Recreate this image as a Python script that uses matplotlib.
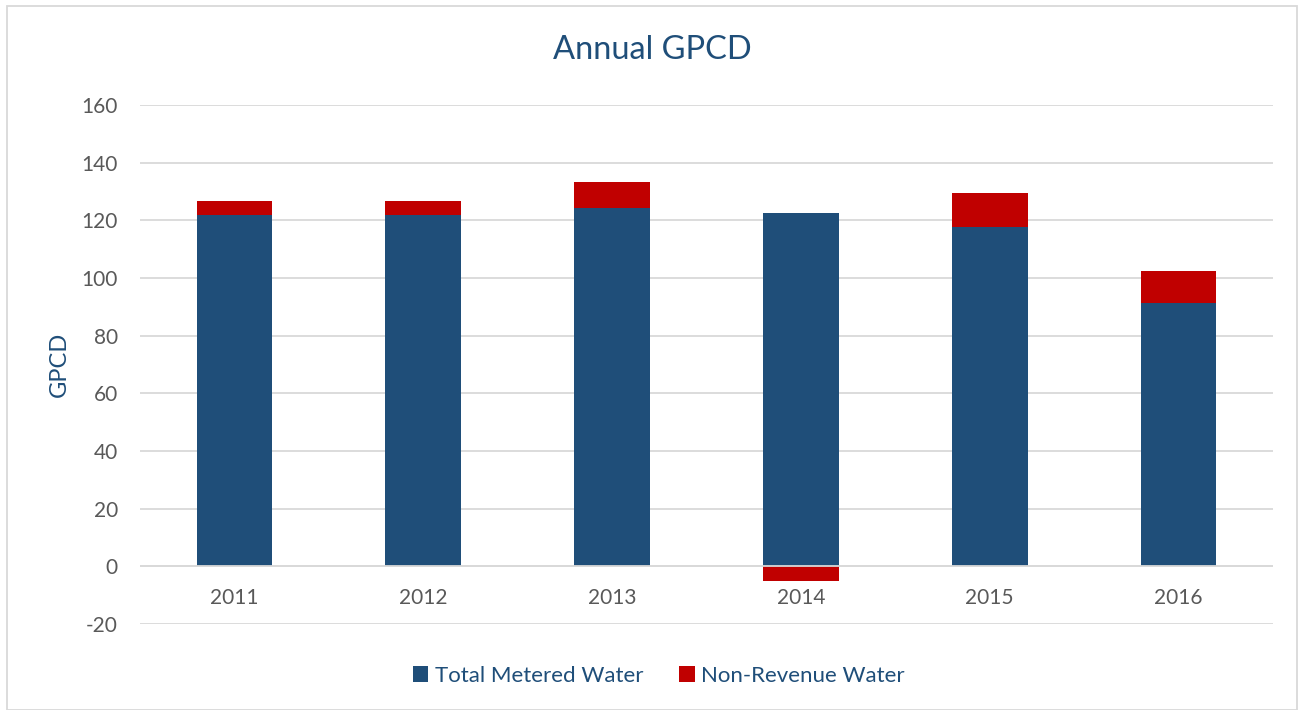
import numpy as np
import matplotlib.pyplot as plt
from matplotlib.patches import Rectangle

plt.rcParams['font.family'] = ['Lato', 'DejaVu Sans']
plt.rcParams['axes.unicode_minus'] = False

years = ["2011", "2012", "2013", "2014", "2015", "2016"]
metered = [121.7, 121.7, 124.4, 122.4, 117.7, 91.3]
non_revenue = [5.0, 5.0, 8.8, -5.1, 11.8, 11.2]

BLUE = "#1F4E79"
RED = "#C00000"
GRID = "#D9D9D9"
TICK = "#595959"

fig = plt.figure(figsize=(13.04, 7.10), dpi=100)
ax = fig.add_axes([140 / 1304, 1 - 624 / 710, (1273 - 140) / 1304, (624 - 105) / 710])

x = np.arange(len(years))
metered = np.array(metered)
non_revenue = np.array(non_revenue)
# negative non-revenue goes below zero, positive sits on top of metered
nr_bottom = np.where(non_revenue >= 0, metered, 0)

ax.bar(x, metered, width=0.4, color=BLUE, label="Total Metered Water", zorder=3)
ax.bar(x, non_revenue, width=0.4, bottom=nr_bottom, color=RED,
       label="Non-Revenue Water", zorder=3)

ax.set_xlim(-0.5, len(years) - 0.5)
ax.set_ylim(-20, 160)
ax.set_yticks(np.arange(-20, 161, 20))
ax.grid(axis="y", color=GRID, linewidth=1.3, zorder=0)
ax.axhline(0, color=GRID, linewidth=1.3, zorder=4)
for s in ax.spines.values():
    s.set_visible(False)
ax.tick_params(axis="both", length=0, labelsize=15, labelcolor=TICK)
ax.tick_params(axis="y", pad=16)
ax.set_xticks(x)
ax.set_xticklabels([])

# x labels sit just under the zero line
for xi, yr in zip(x, years):
    ax.text(xi, -11, yr, ha="center", va="center", fontsize=15, color=TICK)

ax.set_ylabel("GPCD", fontsize=17, color=BLUE, labelpad=8)
fig.text(0.5, 1 - 50 / 710, "Annual GPCD", ha="center", va="center",
         fontsize=23.5, color=BLUE)

ax.legend(loc="center", bbox_to_anchor=(0.458, -0.1), ncol=2, frameon=False,
          fontsize=16, labelcolor=BLUE, handlelength=0.7, handleheight=0.7,
          handletextpad=0.3, columnspacing=1.6)

fig.patches.append(Rectangle((7 / 1304, 0), (1297 - 7) / 1304, 1 - 6 / 710,
                             transform=fig.transFigure, fill=False,
                             edgecolor=GRID, linewidth=1.3))

fig.savefig("out.png", dpi=100)
